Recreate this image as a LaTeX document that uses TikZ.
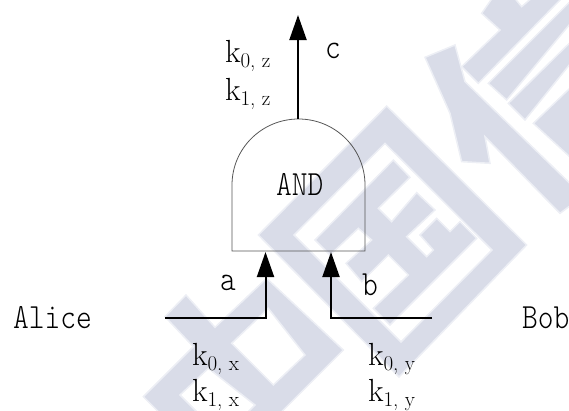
\documentclass[tikz,border=0pt]{standalone}
\usepackage{fontspec}
\newfontfamily\thinmono{Latin Modern Mono Light}
\usetikzlibrary{arrows.meta}
\definecolor{wmfill}{HTML}{D9DCE8}
\definecolor{wmedge}{HTML}{EDEFF5}
\definecolor{gateline}{HTML}{555555}
\newcommand{\bigmono}[1]{\scalebox{1}[1.18]{\thinmono\fontsize{30}{30}\selectfont #1}}
\newcommand{\keylabel}[2]{{\fontsize{32}{32}\selectfont k}\raisebox{-5pt}{\fontsize{21}{21}\selectfont #1, #2}}
\tikzset{
  wm/.style={fill=wmfill,draw=wmedge,line width=1.5pt,even odd rule,line join=miter},
  lab/.style={inner sep=0pt,outer sep=0pt,anchor=base west,text=black},
  wire/.style={draw=black,line width=2pt,line join=miter},
  tipped/.style={wire,-{Triangle[length=25pt,width=17pt]}},
  gateshape/.style={draw=gateline,line width=0.8pt}
}
\begin{document}
\begin{tikzpicture}[x=1pt,y=-1pt]
\useasboundingbox (0,0) rectangle (569,410);
\clip (0,0) rectangle (569,410);
% background watermark
\begin{scope}[xshift=250pt,yshift=-100pt,x=0.3333pt,y=-0.3333pt]
  \path[wm] (25,405)--(410,18)--(830,435)--(447,831)--cycle
            (132,405)--(405,130)--(726,450)--(453,726)--cycle;
  \path[wm] (195,420)--(430,180)--(480,232)--(385,325)--(425,365)--(500,278)--(555,330)--(470,410)--(530,470)--(550,450)--(510,405)--(560,355)--(600,395)--(630,365)--(680,415)--(420,675)--(370,625)--(475,525)--(415,465)--(335,545)--(288,490)--(365,420)--(325,385)--(240,465)--cycle;
\end{scope}
\begin{scope}[xshift=130pt,yshift=-250pt,x=0.3333pt,y=-0.3333pt]
  \path[wm] (168,135)--(255,232)--(410,85)--(640,300)--(430,510)--(120,520)--(40,440)--(190,290)--(105,200)--cycle
            (305,280)--(415,175)--(525,315)--(430,405)--cycle
            (150,435)--(235,355)--(375,465)--(340,500)--(215,500)--cycle;
\end{scope}
\begin{scope}[xshift=400pt,x=0.3333pt,y=-0.3333pt]
  \path[wm] (75,172)--(165,135)--(180,190)--(195,245)--(520,560)--(520,610)--(480,640)--(255,410)--(270,490)--(185,485)--(150,340)--cycle;
  \path[wm] (245,40)--(280,-10)--(340,-10)--(365,20)--(400,-10)--(490,-10)--(235,250)--(185,200)--(300,90)--cycle;
  \path[wm] (265,250)--(520,-5)--(520,60)--(320,300)--cycle;
  \path[wm] (325,310)--(520,118)--(520,180)--(375,360)--cycle;
  \path[wm] (400,370)--(520,255)--(520,480)--cycle;
\end{scope}
% gate
\path[gateshape] (232,251) -- (232,185) arc[start angle=180,end angle=0,x radius=66.5,y radius=-66] -- (365,251) -- cycle;
\node[lab] (gate) at (276,195) {\bigmono{AND}};
% connection points
\coordinate (outbase) at (298,119);
\coordinate (outtip) at (298,15);
\coordinate (ina) at (265.5,252);
\coordinate (inb) at (331,252);
\coordinate (afrom) at (165,318);
\coordinate (bfrom) at (432,318);
\draw[tipped] (outbase) -- (outtip);
\draw[tipped] (afrom) -| (ina);
\draw[tipped] (bfrom) -| (inb);
% labels
\node[lab] (alice) at (13,328) {\bigmono{Alice}};
\node[lab] (bob) at (522,328) {\bigmono{Bob}};
\node[lab] (la) at (220,290) {\bigmono{a}};
\node[lab] (lb) at (362,295) {\bigmono{b}};
\node[lab] (lc) at (325,58) {\bigmono{c}};
\node[lab] (kz0) at (225,62) {\keylabel{0}{z}};
\node[lab] (kz1) at (225,100) {\keylabel{1}{z}};
\node[lab] (kx0) at (192,365) {\keylabel{0}{x}};
\node[lab] (kx1) at (192,401) {\keylabel{1}{x}};
\node[lab] (ky0) at (368,365) {\keylabel{0}{y}};
\node[lab] (ky1) at (368,401) {\keylabel{1}{y}};
\end{tikzpicture}
\end{document}
